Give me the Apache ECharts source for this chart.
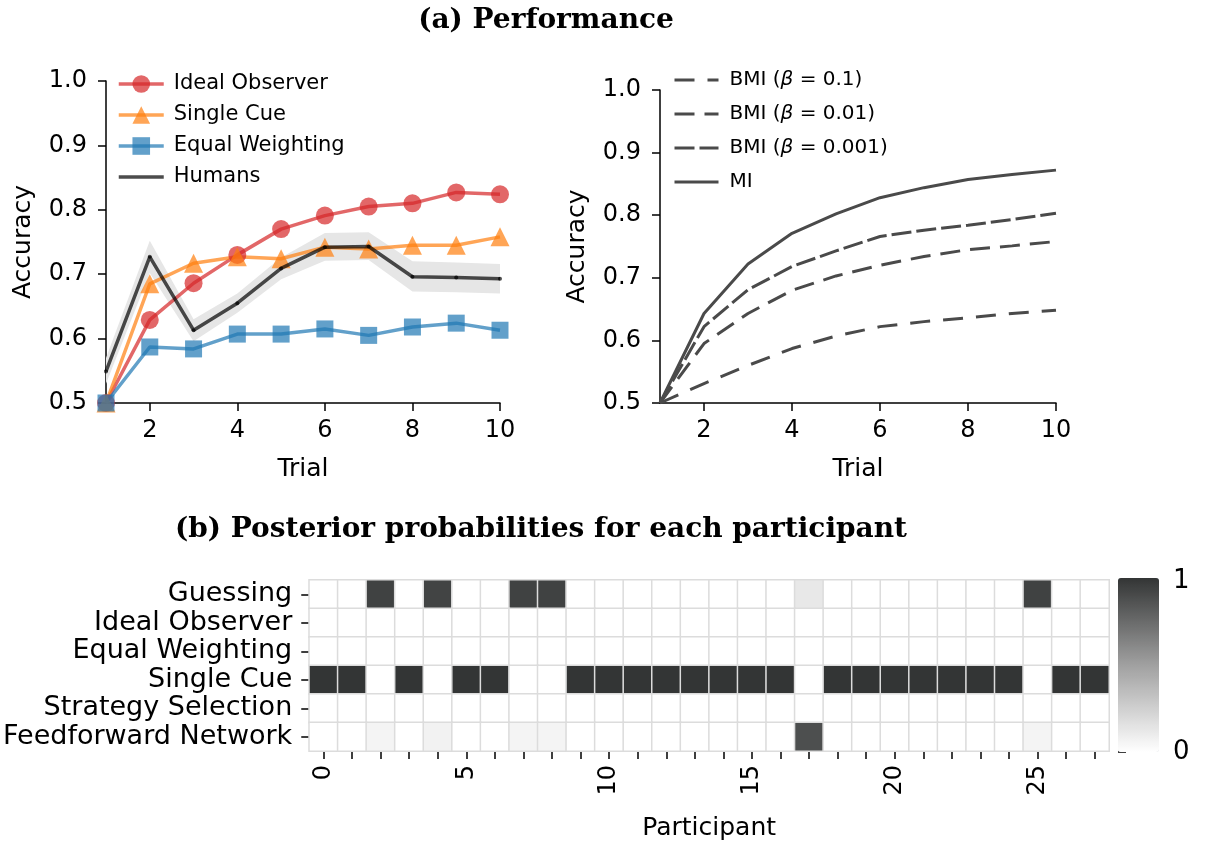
<!DOCTYPE html>
<html><head><meta charset="utf-8">
<script src="https://cdn.jsdelivr.net/npm/echarts@6/dist/echarts.min.js"></script>
<style>html,body{margin:0;padding:0;background:#fff}#c{width:1208px;height:843px}</style>
</head><body><div id="c"></div>
<script>
// ---------- data ----------
const trials = [1, 2, 3, 4, 5, 6, 7, 8, 9, 10];
const trialTicks = [2, 4, 6, 8, 10];
const idealObserver = [0.500, 0.629, 0.686, 0.730, 0.770, 0.791, 0.805, 0.810, 0.827, 0.824];
const singleCue = [0.500, 0.685, 0.717, 0.727, 0.724, 0.742, 0.739, 0.745, 0.745, 0.758];
const equalWeighting = [0.500, 0.587, 0.584, 0.607, 0.607, 0.615, 0.605, 0.618, 0.624, 0.613];
const humans = [0.549, 0.727, 0.613, 0.655, 0.709, 0.742, 0.743, 0.696, 0.695, 0.693];
const humansLow = [0.530, 0.702, 0.596, 0.640, 0.692, 0.721, 0.722, 0.673, 0.672, 0.670];
const humansHigh = [0.570, 0.752, 0.630, 0.670, 0.726, 0.764, 0.765, 0.720, 0.718, 0.716];
const bmiBeta01 = [0.500, 0.531, 0.560, 0.587, 0.607, 0.622, 0.630, 0.636, 0.643, 0.648];
const bmiBeta001 = [0.500, 0.595, 0.643, 0.680, 0.703, 0.720, 0.734, 0.745, 0.751, 0.758];
const bmiBeta0001 = [0.500, 0.622, 0.681, 0.718, 0.743, 0.766, 0.776, 0.784, 0.793, 0.803];
const miValues = [0.500, 0.643, 0.722, 0.771, 0.802, 0.828, 0.844, 0.857, 0.865, 0.872];

const participants = ['0','1','2','3','4','5','6','7','8','9','10','11','12','13','14','15','16','17','18','19','20','21','22','23','24','25','26','27'];
const models = ['Guessing', 'Ideal Observer', 'Equal Weighting', 'Single Cue', 'Strategy Selection', 'Feedforward Network'];
const pGuessing    = [0,0,0.94,0,0.93,0,0,0.94,0.94,0,0,0,0,0,0,0,0,0.12,0,0,0,0,0,0,0,0.94,0,0];
const pIdeal       = [0,0,0,0,0,0,0,0,0,0,0,0,0,0,0,0,0,0,0,0,0,0,0,0,0,0,0,0];
const pEqual       = [0,0,0,0,0,0,0,0,0,0,0,0,0,0,0,0,0,0,0,0,0,0,0,0,0,0,0,0];
const pSingle      = [1,1,0,1,0,1,1,0,0,1,1,1,1,1,1,1,1,0,1,1,1,1,1,1,1,0,1,1];
const pStrategy    = [0,0,0,0,0,0,0,0,0,0,0,0,0,0,0,0,0,0,0,0,0,0,0,0,0,0,0,0];
const pFeedforward = [0,0,0.06,0,0.07,0,0,0.06,0.06,0,0,0,0,0,0,0,0,0.88,0,0,0,0,0,0,0,0.06,0,0];
const posteriorRows = [pGuessing, pIdeal, pEqual, pSingle, pStrategy, pFeedforward];

// ---------- helpers ----------
const FONT = 'DejaVu Sans';
const pairs = arr => trials.map((t, i) => [t, arr[i]]);
const heatData = [];
posteriorRows.forEach((row, r) => row.forEach((v, c) => heatData.push([c, r, v])));

function trialAxis(gi) {
  return {
    type: 'value', gridIndex: gi, min: 1, max: 10,
    name: 'Trial', nameLocation: 'middle', nameGap: 54,
    nameTextStyle: { fontFamily: FONT, fontSize: 25, color: '#000' },
    axisLine: { show: true, lineStyle: { color: '#000', width: 1.5 } },
    axisTick: { show: true, length: 8, lineStyle: { color: '#000', width: 1.5 }, customValues: trialTicks },
    axisLabel: { fontFamily: FONT, fontSize: 24, color: '#000', margin: 16, customValues: trialTicks },
    splitLine: { show: false }
  };
}
function accAxis(gi) {
  return {
    type: 'value', gridIndex: gi, min: 0.5, max: 1.0, interval: 0.1,
    name: 'Accuracy', nameLocation: 'middle', nameGap: 70,
    nameTextStyle: { fontFamily: FONT, fontSize: 25, color: '#000' },
    axisLine: { show: true, lineStyle: { color: '#000', width: 1.5 } },
    axisTick: { show: true, length: 8, lineStyle: { color: '#000', width: 1.5 } },
    axisLabel: { fontFamily: FONT, fontSize: 24, color: '#000', margin: 19, formatter: v => v.toFixed(1) },
    splitLine: { show: false }
  };
}
function modelLine(name, arr, color, symbol, size) {
  return {
    type: 'line', name, xAxisIndex: 0, yAxisIndex: 0, data: pairs(arr),
    symbol, symbolSize: size, showSymbol: true,
    lineStyle: { color, width: 3.5, opacity: 0.7 },
    itemStyle: { color, opacity: 0.7, borderWidth: 0 },
    emphasis: { disabled: true }, z: 3
  };
}
function bmiLine(name, arr, dash) {
  return {
    type: 'line', name, xAxisIndex: 1, yAxisIndex: 1, data: pairs(arr),
    symbol: 'none',
    lineStyle: { color: '#4a4a4a', width: 3, type: dash },
    itemStyle: { color: '#4a4a4a' },
    emphasis: { disabled: true }
  };
}

const chart = echarts.init(document.getElementById('c'), null, { renderer: 'canvas' });
chart.setOption({
  animation: false,
  backgroundColor: '#fff',
  graphic: [
    { type: 'text', x: 546, y: 21, style: { text: '(a) Performance', font: 'bold 28px "DejaVu Serif"', fill: '#000', textAlign: 'center', textVerticalAlign: 'middle' } },
    { type: 'text', x: 541, y: 530, style: { text: '(b) Posterior probabilities for each participant', font: 'bold 28px "DejaVu Serif"', fill: '#000', textAlign: 'center', textVerticalAlign: 'middle' } }
  ],
  grid: [
    { left: 106, top: 81, width: 394, height: 322 },
    { left: 660, top: 90, width: 396, height: 313 },
    { left: 309, top: 580, width: 800, height: 171 },
    { left: 1118, top: 581, width: 41, height: 171 }
  ],
  xAxis: [
    trialAxis(0), trialAxis(1),
    {
      type: 'category', gridIndex: 2, data: participants,
      name: 'Participant', nameLocation: 'middle', nameGap: 65,
      nameTextStyle: { fontFamily: FONT, fontSize: 25, color: '#000' },
      axisLine: { show: false },
      axisTick: { show: true, alignWithLabel: true, interval: 0, length: 8, lineStyle: { color: '#000', width: 1.5 } },
      axisLabel: { fontFamily: FONT, fontSize: 24, color: '#000', rotate: 90, interval: 4, margin: 14 },
      splitLine: { show: false }
    },
    { type: 'value', gridIndex: 3, show: false, min: 0, max: 1 }
  ],
  yAxis: [
    accAxis(0), accAxis(1),
    {
      type: 'category', gridIndex: 2, data: models, inverse: true,
      axisLine: { show: false },
      axisTick: { show: true, alignWithLabel: true, interval: 0, length: 8, lineStyle: { color: '#000', width: 1.5 } },
      axisLabel: { fontFamily: FONT, fontSize: 27, color: '#000', margin: 17, interval: 0, padding: [4, 0, 0, 0] },
      splitLine: { show: false }
    },
    {
      type: 'value', gridIndex: 3, position: 'right', min: 0, max: 1, interval: 1,
      axisLine: { show: false },
      axisTick: { show: true, length: 8, lineStyle: { color: '#000', width: 1.5 } },
      axisLabel: { fontFamily: FONT, fontSize: 26, color: '#000', margin: 14 },
      splitLine: { show: false }
    }
  ],
  legend: [
    {
      left: 112, top: 68, orient: 'vertical', itemWidth: 45, itemHeight: 22, itemGap: 9,
      data: ['Ideal Observer', 'Single Cue', 'Equal Weighting', { name: 'Humans', itemStyle: { opacity: 0 } }],
      lineStyle: { width: 3.5 },
      textStyle: { fontFamily: FONT, fontSize: 21, color: '#000', lineHeight: 22, padding: [0, 0, 0, 5] },
      selectedMode: false
    },
    {
      left: 668, top: 65, orient: 'vertical', itemWidth: 44, itemHeight: 20, itemGap: 14,
      data: ['BMI (β = 0.1)', 'BMI (β = 0.01)', 'BMI (β = 0.001)', 'MI'],
      formatter: n => n.replace('β', '{i|β}'),
      itemStyle: { opacity: 0 },
      lineStyle: { width: 3 },
      textStyle: { fontFamily: FONT, fontSize: 20, color: '#000', lineHeight: 20, padding: [0, 0, 0, 6],
        rich: { i: { fontFamily: FONT, fontStyle: 'italic', fontSize: 20, color: '#000' } } },
      selectedMode: false
    }
  ],
  visualMap: {
    type: 'continuous', min: 0, max: 1, seriesIndex: 10,
    orient: 'vertical', left: 1118, top: 578, padding: 0,
    itemWidth: 41, itemHeight: 174, calculable: false, text: null, showLabel: false,
    inRange: { color: ['#ffffff', '#a0a0a0', '#333535'] }
  },
  series: [
    {
      type: 'custom', name: 'band', xAxisIndex: 0, yAxisIndex: 0, clip: true, z: 1,
      data: trials.map((t, i) => [t, humansLow[i], humansHigh[i]]),
      renderItem: (params, api) => {
        if (params.dataIndex !== 0) return null;
        const pts = [];
        trials.forEach((t, i) => pts.push(api.coord([t, humansHigh[i]])));
        for (let i = trials.length - 1; i >= 0; i--) pts.push(api.coord([trials[i], humansLow[i]]));
        return { type: 'polygon', shape: { points: pts }, style: { fill: '#e6e6e6' } };
      },
      emphasis: { disabled: true }, silent: true
    },
    modelLine('Ideal Observer', idealObserver, '#d62728', 'circle', 18),
    modelLine('Single Cue', singleCue, '#ff7f0e', 'triangle', 19),
    modelLine('Equal Weighting', equalWeighting, '#1f77b4', 'rect', 17),
    {
      type: 'line', name: 'Humans', xAxisIndex: 0, yAxisIndex: 0, data: pairs(humans),
      symbol: 'circle', symbolSize: 4,
      lineStyle: { color: '#000', width: 3.5, opacity: 0.7 },
      itemStyle: { color: '#000', opacity: 0.7 },
      emphasis: { disabled: true }, z: 4
    },
    bmiLine('BMI (β = 0.1)', bmiBeta01, [20, 13]),
    bmiLine('BMI (β = 0.01)', bmiBeta001, [20, 10]),
    bmiLine('BMI (β = 0.001)', bmiBeta0001, [20, 5]),
    bmiLine('MI', miValues, 'solid'),
    { type: 'line', xAxisIndex: 3, yAxisIndex: 3, data: [], symbol: 'none' },
    {
      type: 'heatmap', xAxisIndex: 2, yAxisIndex: 2, data: heatData,
      itemStyle: { borderColor: '#dcdcdc', borderWidth: 1.5 },
      emphasis: { disabled: true }
    }
  ]
});
</script>
</body></html>
